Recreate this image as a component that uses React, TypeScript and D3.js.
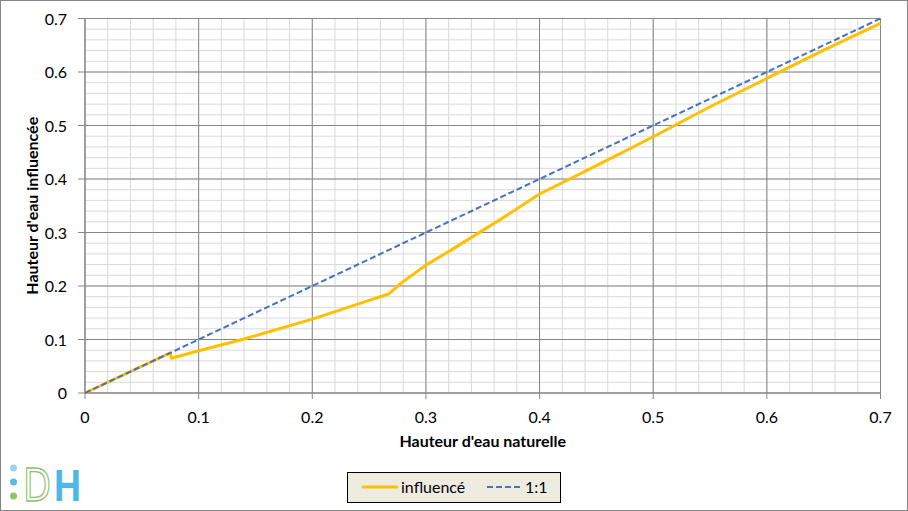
import React from "react";
import * as d3 from "d3";

// courbe influencée
const naturelle = [0, 0.075, 0.076, 0.1, 0.14, 0.2, 0.24, 0.267, 0.278, 0.3, 0.322, 0.366, 0.4, 0.45, 0.5, 0.55, 0.6, 0.65, 0.7];
const influencee = [0, 0.075, 0.065, 0.079, 0.101, 0.138, 0.166, 0.185, 0.205, 0.239, 0.267, 0.325, 0.372, 0.425, 0.479, 0.535, 0.588, 0.641, 0.691];
// droite 1:1
const unX = [0, 0.7];
const unY = [0, 0.7];

const majorTicks = [0, 0.1, 0.2, 0.3, 0.4, 0.5, 0.6, 0.7];
const minorTicks = d3.range(0, 36).map((i) => +(i * 0.02).toFixed(2));

const W = 908;
const H = 511;
const font = "Lato, 'Open Sans', sans-serif";

const App: React.FC = () => {
	const x = d3.scaleLinear().domain([0, 0.7]).range([85, 880.5]);
	const y = d3.scaleLinear().domain([0, 0.7]).range([393, 18.5]);

	const line = d3
		.line<[number, number]>()
		.x((d) => x(d[0]))
		.y((d) => y(d[1]));

	const infl: [number, number][] = naturelle.map((v, i) => [v, influencee[i]]);
	const one: [number, number][] = unX.map((v, i) => [v, unY[i]]);

	return (
		<svg
			width={W}
			height={H}
			style={{ position: "absolute", left: 0, top: 0, background: "#fff" }}
			fontFamily={font}
		>
			<rect x={0.5} y={0.5} width={W - 1} height={H - 1} fill="#fff" stroke="#868686" />

			{/* grille secondaire */}
			{minorTicks.map((t) => (
				<g key={"m" + t}>
					<line x1={x(t)} x2={x(t)} y1={y(0)} y2={y(0.7)} stroke="#d9d9d9" strokeWidth={1} />
					<line x1={x(0)} x2={x(0.7)} y1={y(t)} y2={y(t)} stroke="#d9d9d9" strokeWidth={1} />
				</g>
			))}
			{/* grille principale */}
			{majorTicks.map((t) => (
				<g key={"M" + t}>
					<line x1={x(t)} x2={x(t)} y1={y(0)} y2={y(0.7)} stroke="#868686" strokeWidth={1} />
					<line x1={x(0)} x2={x(0.7)} y1={y(t)} y2={y(t)} stroke="#868686" strokeWidth={1} />
				</g>
			))}

			{/* axes */}
			<line x1={x(0)} x2={x(0)} y1={y(0)} y2={y(0.7)} stroke="#868686" />
			<line x1={x(0)} x2={x(0.7)} y1={y(0)} y2={y(0)} stroke="#868686" />
			{majorTicks.map((t) => (
				<g key={"t" + t}>
					<line x1={x(t)} x2={x(t)} y1={y(0)} y2={y(0) + 6} stroke="#868686" />
					<line x1={x(0) - 7} x2={x(0)} y1={y(t)} y2={y(t)} stroke="#868686" />
					<text x={x(t)} y={y(0) + 30} textAnchor="middle" fontSize={16} fill="#000">
						{d3.format("")(t)}
					</text>
					<text x={67} y={y(t) + 6} textAnchor="end" fontSize={16} fill="#000">
						{d3.format("")(t)}
					</text>
				</g>
			))}

			{/* séries */}
			<path d={line(infl) || ""} fill="none" stroke="#FFC000" strokeWidth={3} strokeLinejoin="round" />
			<path d={line(one) || ""} fill="none" stroke="#4472C4" strokeWidth={2} strokeDasharray="6,3" />

			{/* titres */}
			<text x={(x(0) + x(0.7)) / 2} y={447} textAnchor="middle" fontSize={16} fontWeight="bold">
				Hauteur d'eau naturelle
			</text>
			<text
				transform={`translate(38, ${(y(0) + y(0.7)) / 2}) rotate(-90)`}
				textAnchor="middle"
				fontSize={16}
				fontWeight="bold"
			>
				Hauteur d'eau influencée
			</text>

			{/* légende */}
			<rect x={347.5} y={472.5} width={213} height={30} fill="#EEECE1" stroke="#000" />
			<line x1={362} x2={398} y1={487} y2={487} stroke="#FFC000" strokeWidth={3} />
			<text x={401} y={493} fontSize={16}>influencé</text>
			<line x1={487} x2={522} y1={487} y2={487} stroke="#4472C4" strokeWidth={2} strokeDasharray="6,3" />
			<text x={525} y={493} fontSize={16}>1:1</text>

			{/* logo */}
			<circle cx={13.5} cy={468} r={3.5} fill="#9ED3F0" />
			<circle cx={13.5} cy={482} r={3.5} fill="#5BB8E8" />
			<circle cx={13.5} cy={496} r={3.5} fill="#8CC46A" />
			<text
				x={23}
				y={501}
				fontSize={44}
				fontFamily="'DejaVu Sans', sans-serif"
				fill="none"
				stroke="#8CC46A"
				strokeWidth={1.3}
				textLength={28}
				lengthAdjust="spacingAndGlyphs"
			>
				D
			</text>
			<text
				x={54}
				y={501}
				fontSize={44}
				fontFamily="'Liberation Sans', sans-serif"
				fontWeight="bold"
				fill="#4DB8E8"
				textLength={27}
				lengthAdjust="spacingAndGlyphs"
			>
				H
			</text>
		</svg>
	);
};

export default App;
